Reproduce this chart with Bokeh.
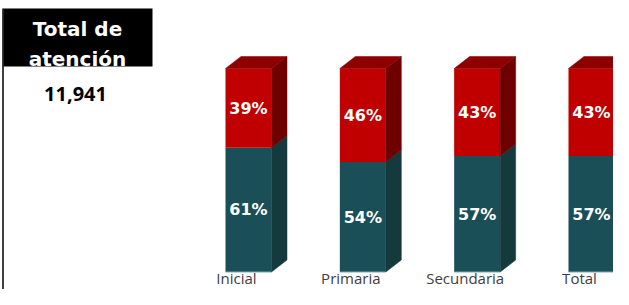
from bokeh.plotting import figure
from bokeh.models import Range1d, ColumnDataSource
from bokeh.core.properties import value
from bokeh.embed import file_html
from bokeh.resources import INLINE

# ---- data ----
categories = ["Inicial", "Primaria", "Secundaria", "Total"]
share_teal = [61, 54, 57, 57]   # lower segment (%)
share_red = [39, 46, 43, 43]    # upper segment (%)
title_lines = ["Total de", "atención"]
total_text = "11,941"

# ---- layout (pixel geometry) ----
W, H = 613, 289
PXX = 114.33      # px per category step
PXY = 2.035       # px per percent
X_ORIGIN = 248.0  # px of first category centre
Y_ZERO = 271.5    # px (from top) of 0%

def rx(px):
    return (px - X_ORIGIN) / PXX

def ry(py):
    return (Y_ZERO - py) / PXY

X0, X1 = rx(0), rx(W)
Y0, Y1 = ry(H), ry(0)

half_w = 23 / PXX
dx = 15.5 / PXX
dy = 12 / PXY

RED = "#C00000"
RED_TOP = "#8E0000"
RED_SIDE = "#6E0000"
TEAL = "#1B4F58"
TEAL_SIDE = "#143A3E"

p = figure(width=W, height=H, x_range=Range1d(X0, X1), y_range=Range1d(Y0, Y1),
           output_backend="svg", toolbar_location=None, min_border=0,
           outline_line_color=None, background_fill_color="white")
p.axis.visible = False
p.grid.visible = False

xs = list(range(len(categories)))
lefts = [x - half_w for x in xs]
rights = [x + half_w for x in xs]
tops = [t + r for t, r in zip(share_teal, share_red)]

# front faces
p.quad(left=lefts, right=rights, bottom=[0] * len(xs), top=share_teal,
       fill_color=TEAL, line_color=None)
p.quad(left=lefts, right=rights, bottom=share_teal, top=tops,
       fill_color=RED, line_color=None)
# bottom highlight
p.segment(x0=lefts, x1=rights, y0=[0] * len(xs), y1=[0] * len(xs),
          line_color="#7FA7AD", line_width=1)

# side faces and top faces
side_teal_x, side_teal_y, side_red_x, side_red_y, top_x, top_y = [], [], [], [], [], []
for x, t, tp in zip(xs, share_teal, tops):
    r = x + half_w
    l = x - half_w
    side_teal_x.append([r, r, r + dx, r + dx])
    side_teal_y.append([0, t, t + dy, 0 + dy])
    side_red_x.append([r, r, r + dx, r + dx])
    side_red_y.append([t, tp, tp + dy, t + dy])
    top_x.append([l, r, r + dx, l + dx])
    top_y.append([tp, tp, tp + dy, tp + dy])

p.patches(side_teal_x, side_teal_y, fill_color=TEAL_SIDE, line_color=TEAL_SIDE, line_width=0.5)
p.patches(side_red_x, side_red_y, fill_color=RED_SIDE, line_color=RED_SIDE, line_width=0.5)
p.patches(top_x, top_y, fill_color=RED_TOP, line_color=RED_TOP, line_width=0.5)

# percentage labels
lab_src = ColumnDataSource(dict(
    x=xs + xs,
    y=[t / 2 for t in share_teal] + [t + r / 2 for t, r in zip(share_teal, share_red)],
    txt=[f"{v}%" for v in share_teal] + [f"{v}%" for v in share_red],
))
p.text(x="x", y="y", text="txt", source=lab_src, text_color="white",
       text_font=value("DejaVu Sans"), text_font_style="bold", text_font_size="16px",
       text_align="center", text_baseline="middle")

# category labels
cat_src = ColumnDataSource(dict(x=[x - 12 / PXX for x in xs], y=[ry(287)] * len(xs), txt=categories))
p.text(x="x", y="y", text="txt", source=cat_src, text_color="#404040",
       text_font=value("Open Sans"), text_font_size="15px",
       text_align="center", text_baseline="bottom")

# title box
p.quad(left=[rx(3)], right=[rx(152)], top=[ry(8)], bottom=[ry(66)],
       fill_color="black", line_color=None)
p.segment(x0=[rx(2.5)], x1=[rx(2.5)], y0=[ry(8)], y1=[ry(300)],
          line_color="black", line_width=1.5)
p.text(x=[rx(77), rx(77)], y=[ry(28.5), ry(58.5)], text=title_lines, text_color="white",
       text_font=value("DejaVu Sans"), text_font_style="bold", text_font_size="20px",
       text_align="center", text_baseline="alphabetic")
p.text(x=[rx(75)], y=[ry(93)], text=[total_text], text_color="black",
       text_font=value("Open Sans"), text_font_style="bold", text_font_size="20px",
       text_align="center", text_baseline="alphabetic")

open("out.html", "w").write(file_html(p, INLINE))
